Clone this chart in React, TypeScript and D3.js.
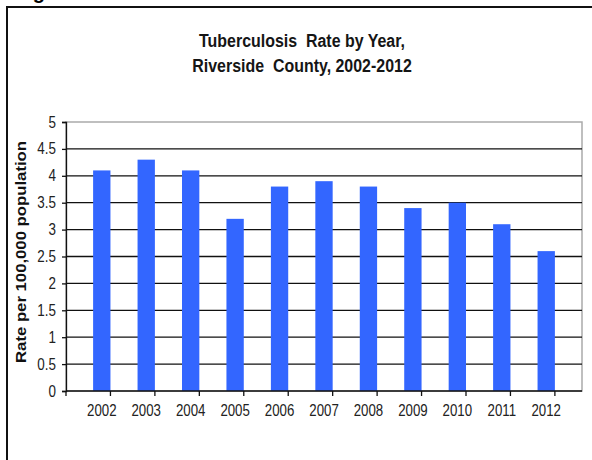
import React, { useEffect, useRef } from 'react';
import * as d3 from 'd3';

// data
const years = ['2002', '2003', '2004', '2005', '2006', '2007', '2008', '2009', '2010', '2011', '2012'];
const rates = [4.1, 4.3, 4.1, 3.2, 3.8, 3.9, 3.8, 3.4, 3.5, 3.1, 2.6];
const yTicks = [0, 0.5, 1, 1.5, 2, 2.5, 3, 3.5, 4, 4.5, 5];
const titleLines = ['Tuberculosis  Rate by Year,', 'Riverside  County, 2002-2012'];
const yLabel = 'Rate per 100,000 population';

const W = 592;
const H = 460;
const font = "'Liberation Sans', Arial, sans-serif";

export default function App() {
  const ref = useRef<SVGSVGElement | null>(null);

  useEffect(() => {
    draw();
  }, []);

  function draw() {
    const svg = d3.select(ref.current);
    svg.selectAll('*').remove();
    const margin = { top: 122, right: 10, bottom: 69, left: 66 };
    const innerWidth = W - margin.left - margin.right;
    const innerHeight = H - margin.top - margin.bottom;

    svg.append('rect').attr('width', W).attr('height', H).attr('fill', '#fff');

    // caption above the frame, mostly cut off like the scan
    svg.append('text')
      .attr('x', 15).attr('y', -1)
      .attr('font-family', font)
      .attr('font-weight', 'bold').attr('font-size', 20)
      .text('Figure');

    // outer frame
    svg.append('path')
      .attr('d', `M7,${H + 5}V7H${W + 5}`)
      .attr('fill', 'none').attr('stroke', '#111').attr('stroke-width', 2);

    // title (condensed)
    svg.append('g').selectAll('text')
      .data(titleLines)
      .enter()
      .append('text')
      .attr('transform', (d, i) => `translate(302,${47 + i * 25}) scale(0.84,1)`)
      .attr('text-anchor', 'middle')
      .attr('font-family', font)
      .attr('font-weight', 'bold')
      .attr('font-size', 19)
      .attr('fill', '#151515')
      .style('white-space', 'pre')
      .text((d) => d);

    const g = svg.append('g').attr('transform', `translate(${margin.left},${margin.top})`);

    const xScale = d3.scaleBand().domain(years).range([0, innerWidth]).padding(0.61);
    const yScale = d3.scaleLinear().domain([0, 5]).range([innerHeight, 0]);

    // plot border
    g.append('rect')
      .attr('width', innerWidth).attr('height', innerHeight)
      .attr('fill', 'none').attr('stroke', '#aaa').attr('stroke-width', 1.5);

    // gridlines
    g.selectAll('.grid')
      .data(yTicks.filter((t) => t > 0 && t < 5))
      .enter()
      .append('line')
      .attr('class', 'grid')
      .attr('x1', 0).attr('x2', innerWidth)
      .attr('y1', (d) => yScale(d)).attr('y2', (d) => yScale(d))
      .attr('stroke', '#111').attr('stroke-width', 1.3);

    // bars
    g.selectAll('.bar')
      .data(rates)
      .enter()
      .append('rect')
      .attr('class', 'bar')
      .attr('x', (d, i) => xScale(years[i]) as number)
      .attr('y', (d) => yScale(d))
      .attr('width', xScale.bandwidth())
      .attr('height', (d) => innerHeight - yScale(d))
      .attr('fill', '#3366ff');

    // y axis
    const yAxis = d3.axisLeft(yScale).tickValues(yTicks).tickFormat(() => '').tickSize(4);
    const ya = g.append('g').call(yAxis);
    ya.select('.domain').attr('stroke', '#111').attr('stroke-width', 1.3);
    ya.selectAll('.tick line').attr('stroke', '#111').attr('stroke-width', 1.3);
    g.selectAll('.yl')
      .data(yTicks)
      .enter()
      .append('text')
      .attr('class', 'yl')
      .attr('transform', (d) => `translate(-10,${yScale(d) + 5.5}) scale(0.84,1)`)
      .attr('text-anchor', 'end')
      .attr('font-family', font).attr('font-size', 16).attr('fill', '#222')
      .text((d) => String(d));

    // x axis: ticks between categories
    const step = xScale.step();
    const xa = g.append('g').attr('transform', `translate(0,${innerHeight})`);
    xa.append('line').attr('x1', 0).attr('x2', innerWidth).attr('stroke', '#111').attr('stroke-width', 1.3);
    xa.selectAll('.xt')
      .data(d3.range(years.length + 1))
      .enter()
      .append('line')
      .attr('class', 'xt')
      .attr('x1', (i) => i * step).attr('x2', (i) => i * step)
      .attr('y1', 0).attr('y2', 5)
      .attr('stroke', '#111').attr('stroke-width', 1.3);
    xa.selectAll('.xl')
      .data(years)
      .enter()
      .append('text')
      .attr('class', 'xl')
      .attr('transform', (d) => `translate(${(xScale(d) as number) + xScale.bandwidth() / 2},25) scale(0.78,1)`)
      .attr('text-anchor', 'middle')
      .attr('font-family', font).attr('font-size', 17).attr('fill', '#222')
      .text((d) => d);

    // y label
    svg.append('text')
      .attr('transform', `translate(26,${252}) rotate(-90)`)
      .attr('text-anchor', 'middle')
      .attr('font-family', font)
      .attr('font-weight', 'bold').attr('font-size', 14).attr('fill', '#111')
      .attr('textLength', 222).attr('lengthAdjust', 'spacingAndGlyphs')
      .text(yLabel);
  }

  return (
    <svg ref={ref} width={W} height={H} style={{ position: 'absolute', left: 0, top: 0 }} />
  );
}
